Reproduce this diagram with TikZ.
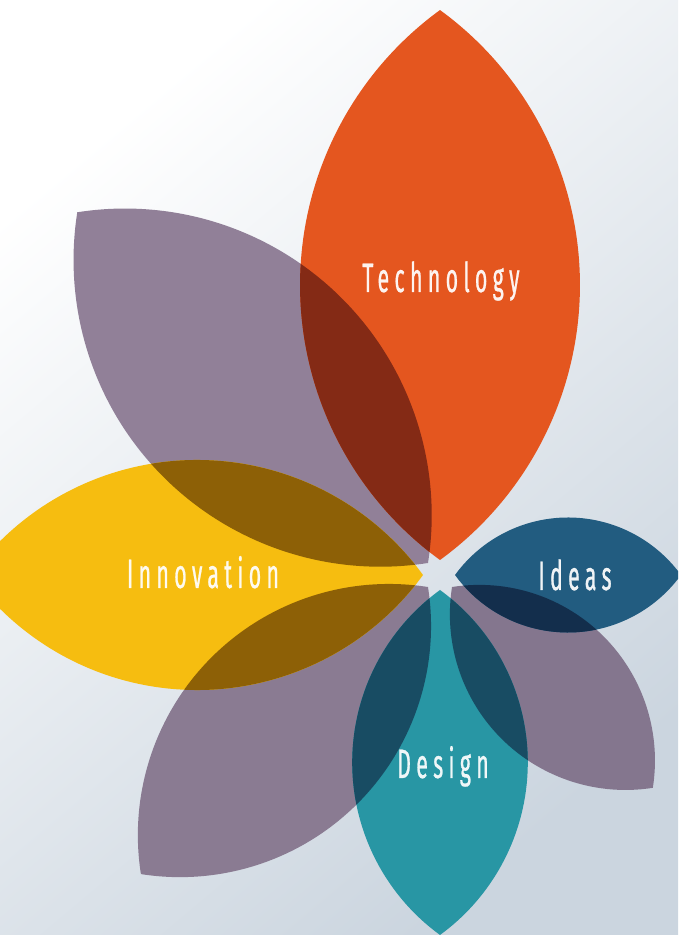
\documentclass[tikz,border=0pt]{standalone}
\usepackage{fontspec}
\newfontfamily\petalfont[FakeStretch=0.52,LetterSpace=13,FakeBold=0.6]{Fira Sans}
\definecolor{bgA}{HTML}{FFFFFF}
\definecolor{bgM}{HTML}{EBEFF3}
\definecolor{bgB}{HTML}{CBD5DF}
\definecolor{cOrange}{HTML}{E4561F}
\definecolor{cYellow}{HTML}{F6BD10}
\definecolor{cBlue}{HTML}{225C80}
\definecolor{cTeal}{HTML}{2896A4}
\definecolor{cPurA}{HTML}{918098}
\definecolor{cPurB}{HTML}{8A7B92}
\definecolor{cPurC}{HTML}{84768E}
\definecolor{oOrange}{HTML}{842A15}
\definecolor{oYellow}{HTML}{8D6006}
\definecolor{oBlue}{HTML}{132E4C}
\definecolor{oTeal}{HTML}{184C63}
\newcommand\lensp[2]{(#1,0) arc[start angle=143.95,end angle=36.05,radius={0.6184*#2}] arc[start angle=-36.05,end angle=-143.95,radius={0.6184*#2}] -- cycle}
\begin{document}
\begin{tikzpicture}[x=1pt,y=1pt,
  pTech/.style={shift={(440,360)},rotate=90},
  pInno/.style={shift={(440,360)},rotate=180},
  pIdea/.style={shift={(440,360)},rotate=0},
  pDesi/.style={shift={(440,360)},rotate=270},
  pUL/.style={shift={(440,360)},rotate=135},
  pLL/.style={shift={(440,360)},rotate=225},
  pLR/.style={shift={(440,360)},rotate=315},
  lbl/.style={anchor=base,inner sep=0pt,text=white,text opacity=0.93,font=\petalfont\fontsize{41}{41}\selectfont}]
\useasboundingbox (0,0) rectangle (678,935);
\shade[top color=bgA,middle color=bgM,bottom color=bgB,shading angle=40] (0,0) rectangle (678,935);
\clip (0,0) rectangle (678,935);
% purple petals
\fill[cPurA,pUL] \lensp{17}{496};
\fill[cPurB,pLL] \lensp{17}{406};
\fill[cPurC,pLR] \lensp{17}{284};
% coloured petals
\fill[cOrange,pTech] \lensp{15}{550};
\fill[cYellow,pInno] \lensp{17}{452};
\fill[cBlue,pIdea] \lensp{15}{226};
\fill[cTeal,pDesi] \lensp{15}{345};
% overlaps
\begin{scope}\clip[pUL] \lensp{17}{496}; \fill[oOrange,pTech] \lensp{15}{550};\end{scope}
\begin{scope}\clip[pUL] \lensp{17}{496}; \fill[oYellow,pInno] \lensp{17}{452};\end{scope}
\begin{scope}\clip[pLL] \lensp{17}{406}; \fill[oYellow,pInno] \lensp{17}{452};\end{scope}
\begin{scope}\clip[pLL] \lensp{17}{406}; \fill[oTeal,pDesi] \lensp{15}{345};\end{scope}
\begin{scope}\clip[pLR] \lensp{17}{284}; \fill[oTeal,pDesi] \lensp{15}{345};\end{scope}
\begin{scope}\clip[pLR] \lensp{17}{284}; \fill[oBlue,pIdea] \lensp{15}{226};\end{scope}
% labels
\node[lbl] (tech) at (441,643) {Technology};
\node[lbl] (inno) at (203,347) {Innovation};
\node[lbl] (idea) at (575,345) {Ideas};
\node[lbl] (desi) at (443,157) {Design};
\end{tikzpicture}
\end{document}
